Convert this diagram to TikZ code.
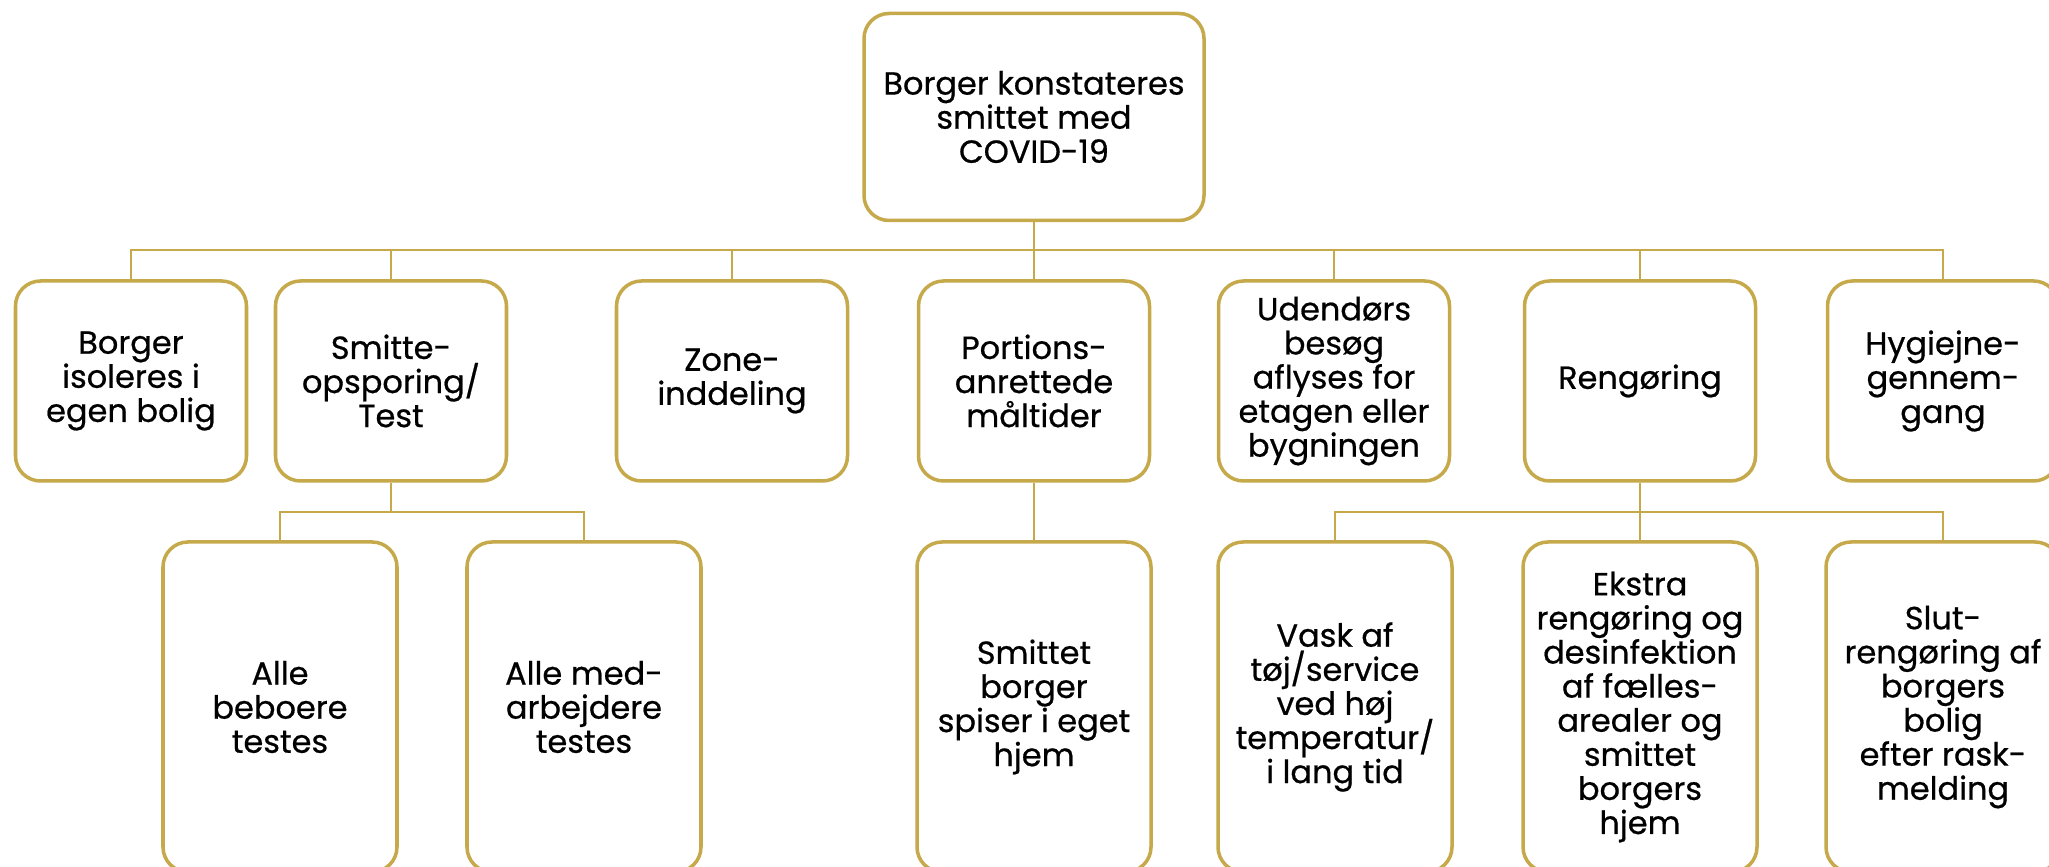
\documentclass[tikz,border=0pt]{standalone}
\usepackage{fontspec}
\setmainfont{Poppins}[FakeBold=0.6]
\usetikzlibrary{positioning}
\definecolor{gold}{RGB}{197,169,74}

\begin{document}
\begin{tikzpicture}
[on grid,
 box/.style={draw=gold, line width=1pt, rounded corners=2.5mm, fill=white,
             align=center, inner sep=2pt, minimum width=2.31cm, minimum height=2cm,
             font={\fontsize{9.1}{9.7}\selectfont\lineskiplimit-6pt}},
 tall/.style={box, minimum width=2.34cm, minimum height=3.3cm},
 fork/.style={draw=gold, line width=0.65pt, to path={-- ++(0,-#1) -| (\tikztotarget)}},
 fork/.default=2.9mm]

\useasboundingbox (0,0) rectangle (20.49,-8.67);

\node[box, minimum width=3.4cm, minimum height=2.07cm] (root) at (10.34,-1.17) {Borger konstateres\\smittet med\\COVID-19};

\node[box, below=2.64cm of root] (portion) {Portions-\\anrettede\\måltider};
\node[box, left=3.02cm of portion] (zone) {Zone-\\inddeling};
\node[box, left=3.41cm of zone] (smitte) {Smitte-\\opsporing/\\Test};
\node[box, left=2.60cm of smitte] (isoler) {Borger\\isoleres i\\egen bolig};
\node[box, right=3.00cm of portion] (besoeg) {Udendørs\\besøg\\aflyses for\\etagen eller\\bygningen};
\node[box, right=3.06cm of besoeg] (reng) {Rengøring};
\node[box, right=3.03cm of reng] (hygiejne) {Hygiejne-\\gennem-\\gang};

\node[tall, below left=3.26cm and 1.11cm of smitte] (beboere) {Alle\\beboere\\testes};
\node[tall, below right=3.26cm and 1.93cm of smitte] (medarb) {Alle med-\\arbejdere\\testes};
\node[tall, below=3.26cm of portion] (spiser) {Smittet\\borger\\spiser i eget\\hjem};
\node[tall, below left=3.26cm and 3.05cm of reng] (vask) {Vask af\\tøj/service\\ved høj\\temperatur/\\i lang tid};
\node[tall, below=3.26cm of reng] (ekstra) {Ekstra\\rengøring og\\desinfektion\\af fælles-\\arealer og\\smittet\\borgers\\hjem};
\node[tall, below right=3.26cm and 3.03cm of reng] (slut) {Slut-\\rengøring af\\borgers\\bolig\\efter rask-\\melding};

\path[fork=2.8mm]
	(root.south) edge (isoler.north)
		edge (smitte.north)
		edge (zone.north)
		edge (portion.north)
		edge (besoeg.north)
		edge (reng.north)
		edge (hygiejne.north);

\path[fork]
	(smitte.south) edge (beboere.north)
		edge (medarb.north)
	(portion.south) edge (spiser.north)
	(reng.south) edge (vask.north)
		edge (ekstra.north)
		edge (slut.north);

\end{tikzpicture}
\end{document}
